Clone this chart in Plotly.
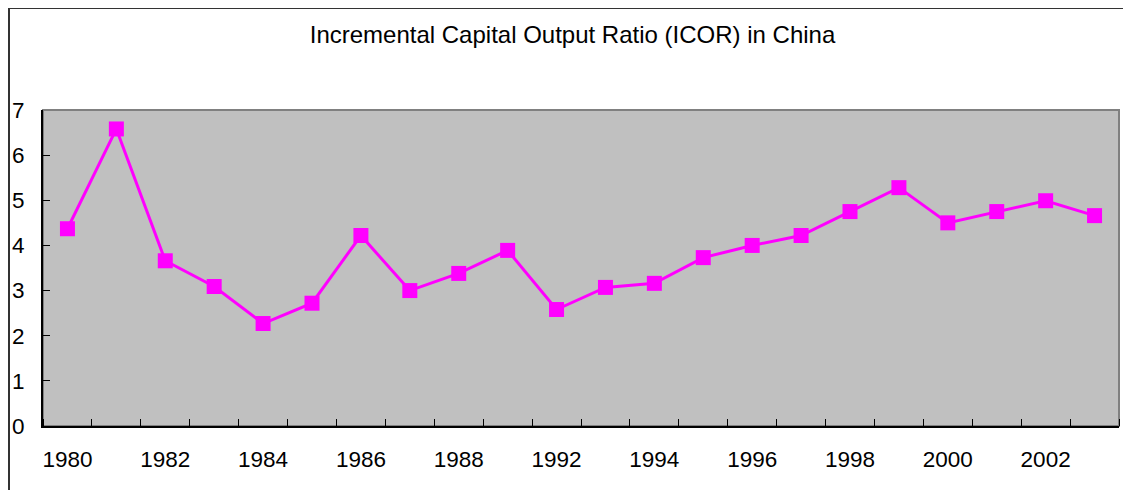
import plotly.graph_objects as go

years = ["1980", "1981", "1982", "1983", "1984", "1985", "1986", "1987", "1988", "1989",
         "1992", "1993", "1994", "1995", "1996", "1997", "1998", "1999", "2000", "2001",
         "2002", "2003"]
icor = [4.37, 6.58, 3.66, 3.09, 2.27, 2.72, 4.22, 3.00, 3.38, 3.89,
        2.58, 3.07, 3.16, 3.73, 4.00, 4.22, 4.75, 5.28, 4.50, 4.75,
        4.99, 4.66]
labeled_years = ["1980", "1982", "1984", "1986", "1988", "1992", "1994", "1996",
                 "1998", "2000", "2002"]
title_text = "Incremental Capital Output Ratio (ICOR) in China"

pos = list(range(len(years)))
tickpos = [years.index(y) for y in labeled_years]

W, H = 1131, 490
ml, mr, mt, mb = 35, 20, 102, 72
pw = W - ml - mr
ph = H - mt - mb

fig = go.Figure()
fig.add_trace(go.Scatter(
    x=pos, y=icor, mode="lines+markers",
    line=dict(color="#FF00FF", width=3),
    marker=dict(symbol="square", size=15, color="#FF00FF"),
    showlegend=False, cliponaxis=False,
))

FONT = "Liberation Sans, Arial, sans-serif"
fig.update_layout(
    width=W, height=H,
    margin=dict(l=ml, r=mr, t=mt, b=mb, pad=0, autoexpand=False),
    paper_bgcolor="white", plot_bgcolor="#C0C0C0",
    font=dict(family=FONT, size=22.5, color="black"),
    title=dict(text=title_text, x=564.5 / W, xanchor="center", xref="container",
               y=1 - 27 / H, yanchor="middle", font=dict(size=24)),
)
fig.update_xaxes(
    range=[-0.5, len(years) - 0.5], tickmode="array", tickvals=tickpos,
    ticktext=labeled_years, ticks="", showgrid=False, zeroline=False,
    showline=True, linecolor="black", linewidth=2, automargin=False,
    ticklabelstandoff=12,
    minor=dict(tick0=0.5, dtick=1, ticks="inside", ticklen=7, tickcolor="black", tickwidth=1, showgrid=False),
)
fig.update_yaxes(
    range=[0, 7], dtick=1, ticks="inside", ticklen=7, tickcolor="black",
    showgrid=False, zeroline=False, showline=True, linecolor="black", linewidth=2,
    automargin=False, ticklabelstandoff=12,
)
# plot-area border (gray top/right)
fig.add_shape(type="rect", xref="paper", yref="paper", x0=0, y0=0, x1=1, y1=1,
              line=dict(color="#808080", width=2), layer="below")
# outer chart frame (left & top)
lx = (1 - ml) / pw
ty = (H - mb - 0) / ph
fig.add_shape(type="line", xref="paper", yref="paper", x0=lx, x1=lx, y0=-0.5, y1=ty,
              line=dict(color="#333333", width=2))
fig.add_shape(type="line", xref="paper", yref="paper", x0=lx, x1=1.5, y0=ty, y1=ty,
              line=dict(color="#333333", width=2))

fig.write_html("out.html")
